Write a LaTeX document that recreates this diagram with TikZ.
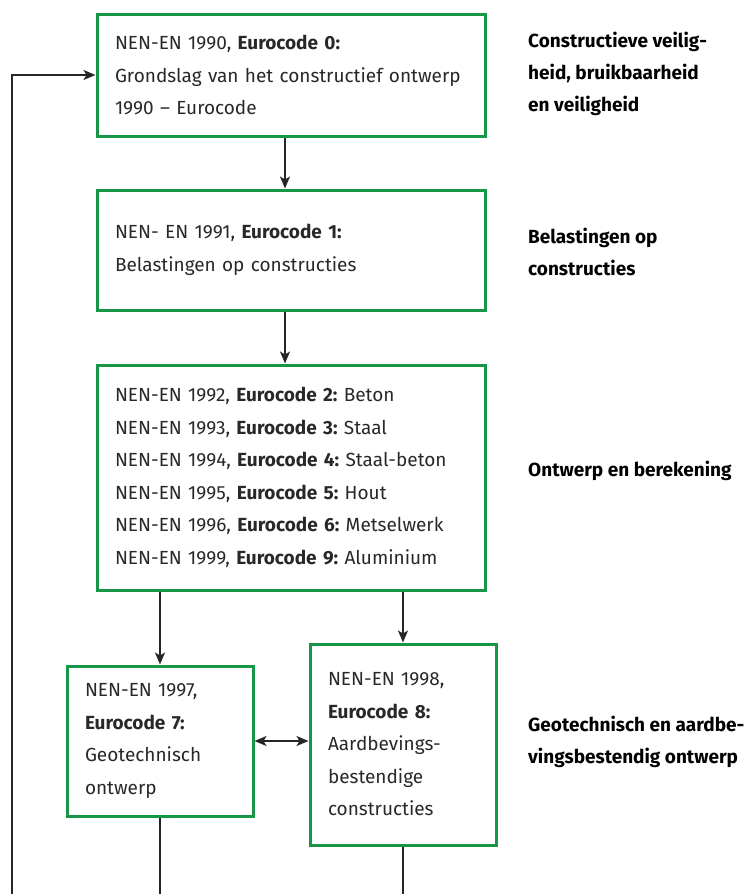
\documentclass[tikz,border=0pt]{standalone}
\usepackage{fontspec}
\setmainfont{Fira Sans}
\usetikzlibrary{arrows.meta}
\definecolor{ecgreen}{RGB}{24,150,72}
\definecolor{txtgray}{RGB}{40,40,40}
\frenchspacing
\begin{document}
\begin{tikzpicture}[x=1pt,y=-1pt,
  ecbox/.style={draw=ecgreen, line width=3pt, rectangle, inner xsep=18pt, inner ysep=0pt,
    align=left, text=txtgray, font=\fontsize{19}{32.5}\selectfont, anchor=center},
  side/.style={anchor=west, align=left, inner sep=0pt,
    font=\bfseries\fontsize{19}{32.2}\selectfont, text=black},
  conn/.style={line width=1.5pt, draw=black!85},
  arr/.style={conn, -{Stealth[length=12pt,width=10pt,inset=3pt]}},
  dbl/.style={conn, {Stealth[length=12pt,width=10pt,inset=3pt]}-{Stealth[length=12pt,width=10pt,inset=3pt]}}]
\useasboundingbox (0,0) rectangle (753,894);

\node[ecbox, minimum width=388pt, minimum height=122pt, text width=352pt] (b0) at (291,75)
  {\frenchspacing NEN-EN 1990, \textbf{Eurocode 0:}\\Grondslag van het constructief ontwerp\\1990 -- Eurocode};
\node[ecbox, minimum width=388pt, minimum height=120pt, text width=352pt] (b1) at (291,250)
  {\frenchspacing NEN- EN 1991, \textbf{Eurocode 1:}\\Belastingen op constructies};
\node[ecbox, minimum width=388pt, minimum height=225pt, text width=352pt] (b2) at (291,477.5)
  {\frenchspacing NEN-EN 1992, \textbf{Eurocode 2:} Beton\\
   NEN-EN 1993, \textbf{Eurocode 3:} Staal\\
   NEN-EN 1994, \textbf{Eurocode 4:} Staal-beton\\
   NEN-EN 1995, \textbf{Eurocode 5:} Hout\\
   NEN-EN 1996, \textbf{Eurocode 6:} Metselwerk\\
   NEN-EN 1999, \textbf{Eurocode 9:} Aluminium};
\node[ecbox, minimum width=186pt, minimum height=150pt, text width=150pt] (b7) at (160,741)
  {NEN-EN 1997,\\\textbf{Eurocode 7:}\\Geotechnisch\\ontwerp};
\node[ecbox, minimum width=186pt, minimum height=201pt, text width=150pt] (b8) at (403,744.5)
  {NEN-EN 1998,\\\textbf{Eurocode 8:}\\Aardbevings-\\bestendige\\constructies};

\node[side] (l0) at (528,74) {Constructieve veilig-\\heid, bruikbaarheid\\en veiligheid};
\node[side] (l1) at (528,252) {Belastingen op\\constructies};
\node[side] (l2) at (528,471) {Ontwerp en berekening};
\node[side] (l3) at (528,742) {Geotechnisch en aardbe-\\vingsbestendig ontwerp};

\coordinate (fb) at (12,894);
\coordinate (e7) at (160,894);
\coordinate (e8) at (403,894);

\draw[arr] ([xshift=-6pt]b0.south) -- ([xshift=-6pt]b1.north);
\draw[arr] ([xshift=-6pt]b1.south) -- ([xshift=-6pt]b2.north);
\draw[arr] (b7.north |- b2.south) -- (b7.north);
\draw[arr] (b8.north |- b2.south) -- (b8.north);
\draw[dbl] (b7.east) -- (b7.east -| b8.west);
\draw[conn] (b7.south) -- (e7);
\draw[conn] (b8.south) -- (e8);
\draw[arr] (fb) |- (b0.west);
\end{tikzpicture}
\end{document}
